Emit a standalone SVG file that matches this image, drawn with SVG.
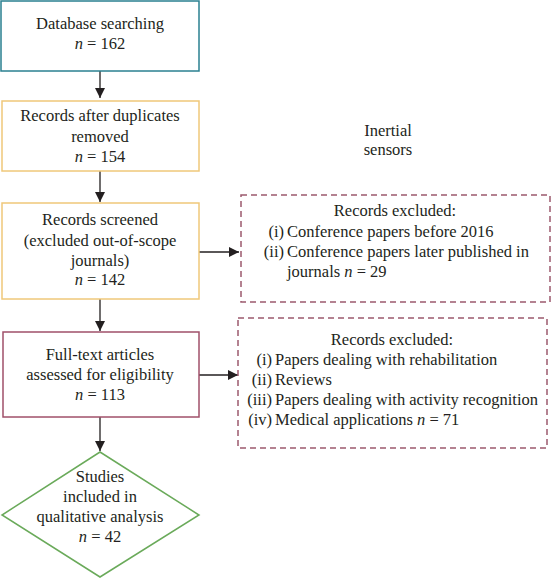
<svg xmlns="http://www.w3.org/2000/svg" width="551" height="579" viewBox="0 0 551 579">
<style>
text{font-family:"Liberation Serif","Times New Roman",serif;font-size:16.5px;fill:#231f20}
.c{text-anchor:middle}
.r{text-anchor:end}
.n{font-style:italic}
.box{fill:#fff;stroke-width:1.5}
.dash{fill:#fff;stroke:#9c5a6e;stroke-width:1.5;stroke-dasharray:6 4}
.conn{stroke:#231f20;stroke-width:1.3;fill:none}
</style>
<defs>
<marker id="ah" viewBox="0 0 10 10" refX="10" refY="5" markerWidth="10" markerHeight="10" markerUnits="userSpaceOnUse" orient="auto">
<path d="M0,0 L10,5 L0,10 z" fill="#231f20"/>
</marker>
</defs>
<rect width="551" height="579" fill="#fff"/>
<g id="connectors">
<line class="conn" x1="100" y1="71" x2="100" y2="98" marker-end="url(#ah)"/>
<line class="conn" x1="100" y1="171" x2="100" y2="202" marker-end="url(#ah)"/>
<line class="conn" x1="100" y1="299" x2="100" y2="331" marker-end="url(#ah)"/>
<line class="conn" x1="100" y1="417" x2="100" y2="451" marker-end="url(#ah)"/>
<line class="conn" x1="199" y1="252" x2="239" y2="252" marker-end="url(#ah)"/>
<line class="conn" x1="199" y1="375" x2="238" y2="375" marker-end="url(#ah)"/>
</g>
<g id="n1">
<rect class="box" x="1" y="1" width="198" height="70" stroke="#2a8090"/>
<text class="c" x="100" y="29">Database searching</text>
<text class="c" x="100" y="49"><tspan class="n">n</tspan> = 162</text>
</g>
<g id="n2">
<rect class="box" x="2" y="101" width="197" height="70" stroke="#efc87a"/>
<text class="c" x="100" y="121">Records after duplicates</text>
<text class="c" x="100" y="142">removed</text>
<text class="c" x="100" y="162"><tspan class="n">n</tspan> = 154</text>
</g>
<g id="n3">
<rect class="box" x="2" y="203" width="197" height="96" stroke="#efc87a"/>
<text class="c" x="100" y="225">Records screened</text>
<text class="c" x="100" y="246">(excluded out-of-scope</text>
<text class="c" x="100" y="266">journals)</text>
<text class="c" x="100" y="285"><tspan class="n">n</tspan> = 142</text>
</g>
<g id="n4">
<rect class="box" x="3" y="332" width="196" height="85" stroke="#a0506a"/>
<text class="c" x="100" y="360">Full-text articles</text>
<text class="c" x="100" y="380">assessed for eligibility</text>
<text class="c" x="100" y="400"><tspan class="n">n</tspan> = 113</text>
</g>
<g id="n5">
<polygon class="box" points="100,452 199,515 100,577 2,515" stroke="#6aaa5a"/>
<text class="c" x="100" y="482">Studies</text>
<text class="c" x="100" y="502">included in</text>
<text class="c" x="100" y="522">qualitative analysis</text>
<text class="c" x="100" y="542"><tspan class="n">n</tspan> = 42</text>
</g>
<g id="label">
<text class="c" x="388" y="136">Inertial</text>
<text class="c" x="388" y="155">sensors</text>
</g>
<g id="ex1">
<rect class="dash" x="241" y="195" width="309" height="107"/>
<text class="c" x="395" y="216">Records excluded:</text>
<text class="r" x="284" y="237">(i)</text>
<text x="287" y="237">Conference papers before 2016</text>
<text class="r" x="284" y="257">(ii)</text>
<text x="287" y="257">Conference papers later published in</text>
<text x="287" y="277">journals <tspan class="n">n</tspan> = 29</text>
</g>
<g id="ex2">
<rect class="dash" x="238" y="318" width="309" height="130"/>
<text class="c" x="392" y="345">Records excluded:</text>
<text class="r" x="272" y="365">(i)</text>
<text x="275" y="365">Papers dealing with rehabilitation</text>
<text class="r" x="272" y="385">(ii)</text>
<text x="275" y="385">Reviews</text>
<text class="r" x="272" y="405">(iii)</text>
<text x="275" y="405">Papers dealing with activity recognition</text>
<text class="r" x="272" y="425">(iv)</text>
<text x="275" y="425">Medical applications <tspan class="n">n</tspan> = 71</text>
</g>
</svg>
